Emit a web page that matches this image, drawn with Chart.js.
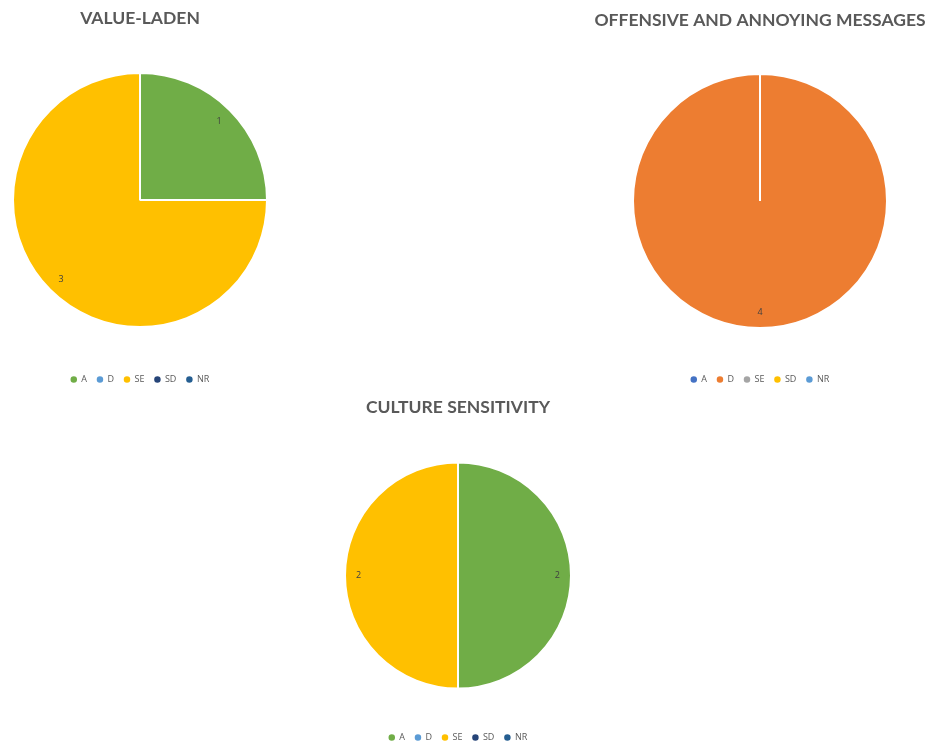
<!DOCTYPE html>
<html>
<head>
<meta charset="utf-8">
<script src="https://cdn.jsdelivr.net/npm/chart.js@4.4.1/dist/chart.umd.min.js"></script>
<style>
  html, body { margin: 0; padding: 0; background: #ffffff; }
  body { width: 935px; height: 743px; position: relative; overflow: hidden; }
  .box { position: absolute; }
  #box1 { left: 0px; top: 0px; width: 280px; height: 395px; }
  #box2 { left: 585px; top: 0px; width: 350px; height: 395px; }
  #box3 { left: 318px; top: 393px; width: 280px; height: 359px; }
</style>
</head>
<body>
<div class="box" id="box1"><canvas id="c1"></canvas></div>
<div class="box" id="box2"><canvas id="c2"></canvas></div>
<div class="box" id="box3"><canvas id="c3"></canvas></div>
<script>
// Response categories shared by all three pies
const categories = ['A', 'D', 'SE', 'SD', 'NR'];

// Counts per category
const valueLadenCounts = [1, 0, 3, 0, 0];
const offensiveCounts = [0, 4, 0, 0, 0];
const cultureCounts = [2, 0, 2, 0, 0];

// Slice colours per pie
const valueLadenColors = ['#70AD47', '#5B9BD5', '#FFC000', '#264478', '#255E91'];
const offensiveColors = ['#4472C4', '#ED7D31', '#A5A5A5', '#FFC000', '#5B9BD5'];
const cultureColors = ['#70AD47', '#5B9BD5', '#FFC000', '#264478', '#255E91'];

// Writes each non-zero count inside its slice, near the rim
const valueLabels = {
  id: 'valueLabels',
  afterDatasetsDraw(chart) {
    const ctx = chart.ctx;
    const meta = chart.getDatasetMeta(0);
    const data = chart.data.datasets[0].data;
    ctx.save();
    ctx.font = '9px "Open Sans", sans-serif';
    ctx.fillStyle = '#404040';
    ctx.textAlign = 'center';
    ctx.textBaseline = 'middle';
    meta.data.forEach((arc, i) => {
      if (!data[i]) return;
      const p = arc.getProps(['x', 'y', 'startAngle', 'endAngle', 'outerRadius'], true);
      const mid = (p.startAngle + p.endAngle) / 2;
      const r = p.outerRadius * 0.88;
      ctx.fillText(String(data[i]), p.x + Math.cos(mid) * r, p.y + Math.sin(mid) * r);
    });
    ctx.restore();
  }
};

function makePie(id, title, counts, colors, radius, titlePad, bottomPad) {
  return new Chart(document.getElementById(id), {
    type: 'pie',
    data: {
      labels: categories,
      datasets: [{
        data: counts,
        backgroundColor: colors,
        borderColor: '#ffffff',
        borderWidth: 2
      }]
    },
    options: {
      responsive: true,
      maintainAspectRatio: false,
      animation: false,
      radius: radius,
      layout: { padding: { top: 0, bottom: bottomPad, left: 0, right: 0 } },
      plugins: {
        title: {
          display: true,
          text: title,
          color: '#595959',
          font: { family: 'Lato', size: 17.5, weight: 'bold' },
          padding: titlePad
        },
        legend: {
          position: 'bottom',
          labels: {
            usePointStyle: true,
            pointStyle: 'circle',
            boxWidth: 6,
            boxHeight: 6,
            padding: 10,
            color: '#595959',
            font: { family: 'Open Sans', size: 9 }
          }
        },
        tooltip: { enabled: false }
      }
    },
    plugins: [valueLabels]
  });
}

makePie('c1', 'VALUE-LADEN', valueLadenCounts, valueLadenColors, 127, { top: 8, bottom: 6 }, 1);
makePie('c2', 'OFFENSIVE AND ANNOYING MESSAGES', offensiveCounts, offensiveColors, 127, { top: 10, bottom: 6 }, 1);
makePie('c3', 'CULTURE SENSITIVITY', cultureCounts, cultureColors, 113, { top: 4, bottom: 10 }, 0);
</script>
</body>
</html>
